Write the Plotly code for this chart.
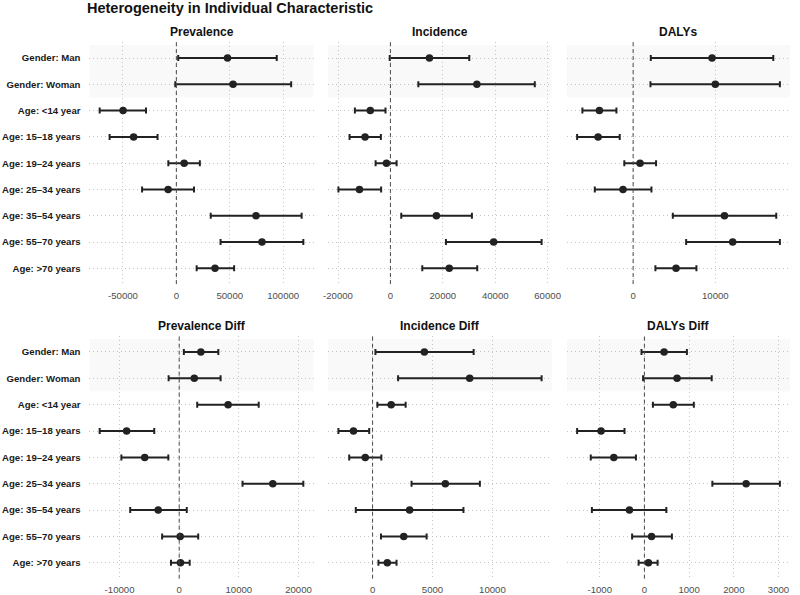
import plotly.graph_objects as go
from plotly.subplots import make_subplots

categories = ["Gender: Man", "Gender: Woman", "Age: <14 year", "Age: 15–18 years",
              "Age: 19–24 years", "Age: 25–34 years", "Age: 35–54 years",
              "Age: 55–70 years", "Age: >70 years"]

panel_titles = ["Prevalence", "Incidence", "DALYs",
                "Prevalence Diff", "Incidence Diff", "DALYs Diff"]

# Prevalence
prev_est = [47900, 53100, -49900, -40000, 7300, -7700, 74600, 80200, 36200]
prev_low = [1750, -1000, -71800, -62500, -7500, -32100, 32200, 41400, 19000]
prev_high = [94000, 107500, -28400, -17600, 22000, 16500, 117300, 118900, 54100]

# Incidence
inc_est = [14900, 33000, -7680, -9680, -1500, -11820, 17550, 39400, 22450]
inc_low = [-260, 10650, -13560, -15590, -5650, -19850, 4140, 21200, 12160]
inc_high = [30100, 55100, -1880, -3650, 2370, -3540, 31100, 57700, 33140]

# DALYs
daly_est = [9600, 10000, -4100, -4260, 840, -1230, 11110, 12110, 5220]
daly_low = [2150, 2110, -6170, -6810, -1070, -4660, 4830, 6450, 2710]
daly_high = [17050, 17850, -2030, -1630, 2790, 2230, 17410, 17850, 7700]

# Prevalence Diff
pdiff_est = [3630, 2530, 8200, -8810, -5780, 15690, -3520, 165, 215]
pdiff_low = [780, -1770, 3020, -13330, -9690, 10620, -8210, -2860, -1370]
pdiff_high = [6560, 6940, 13330, -4180, -1820, 20810, 1270, 3190, 1760]

# Incidence Diff
idiff_est = [4320, 8100, 1550, -1590, -610, 6070, 3090, 2600, 1230]
idiff_low = [240, 2130, 400, -2850, -1950, 3250, -1400, 700, 490]
idiff_high = [8430, 14100, 2760, -280, 730, 8950, 7580, 4510, 2000]

# DALYs Diff
ddiff_est = [440, 730, 645, -970, -685, 2275, -335, 160, 90]
ddiff_low = [-65, -30, 190, -1505, -1200, 1520, -1175, -275, -130]
ddiff_high = [950, 1505, 1105, -445, -190, 3030, 490, 615, 295]

# Tick values / labels
prev_ticks = [-50000, 0, 50000, 100000]
prev_ticktext = ["-50000", "0", "50000", "100000"]
inc_ticks = [-20000, 0, 20000, 40000, 60000]
inc_ticktext = ["-20000", "0", "20000", "40000", "60000"]
daly_ticks = [0, 10000]
daly_ticktext = ["0", "10000"]
pdiff_ticks = [-10000, 0, 10000, 20000]
pdiff_ticktext = ["-10000", "0", "10000", "20000"]
idiff_ticks = [0, 5000, 10000]
idiff_ticktext = ["0", "5000", "10000"]
ddiff_ticks = [-1000, 0, 1000, 2000, 3000]
ddiff_ticktext = ["-1000", "0", "1000", "2000", "3000"]

panels = [
    (prev_est, prev_low, prev_high, prev_ticks, prev_ticktext),
    (inc_est, inc_low, inc_high, inc_ticks, inc_ticktext),
    (daly_est, daly_low, daly_high, daly_ticks, daly_ticktext),
    (pdiff_est, pdiff_low, pdiff_high, pdiff_ticks, pdiff_ticktext),
    (idiff_est, idiff_low, idiff_high, idiff_ticks, idiff_ticktext),
    (ddiff_est, ddiff_low, ddiff_high, ddiff_ticks, ddiff_ticktext),
]

W, H = 800, 595
col_px = [(86, 314), (329, 556.5), (572, 799)]
row_px = [(42.5, 285.5), (337.8, 581.6)]

fig = make_subplots(rows=2, cols=3)

FONT = "Liberation Sans, Arial, sans-serif"
DARK = "#222222"
GRID = "#c4c4c4"
DOT = "1px,3px"

for i, (est, low, high, tv, tt) in enumerate(panels):
    r, c = i // 3, i % 3
    plus = [h - e for h, e in zip(high, est)]
    minus = [e - l for e, l in zip(est, low)]
    fig.add_trace(go.Scatter(
        x=est, y=categories, mode="markers",
        marker=dict(color=DARK, size=7.5),
        error_x=dict(type="data", symmetric=False, array=plus, arrayminus=minus,
                     color=DARK, thickness=2, width=3),
        showlegend=False, hoverinfo="x+y"),
        row=r + 1, col=c + 1)

    lo = min(low); hi = max(high); span = hi - lo
    xr = [lo - 0.05 * span, hi + 0.05 * span]
    axn = "" if i == 0 else str(i + 1)
    x0, x1 = col_px[c]
    y0, y1 = row_px[r]
    fig.update_layout(**{
        "xaxis" + axn: dict(
            domain=[x0 / W, x1 / W], range=xr, tickvals=tv, ticktext=tt,
            showgrid=True, gridcolor=GRID, griddash=DOT, gridwidth=1,
            zeroline=False, showline=False, ticks="", ticklabelstandoff=4,
            tickfont=dict(family=FONT, size=9.6, color="#4d4d4d"),
            fixedrange=True),
        "yaxis" + axn: dict(
            domain=[1 - y1 / H, 1 - y0 / H], type="category",
            categoryorder="array", categoryarray=categories,
            range=[8.6, -0.6],
            showgrid=True, gridcolor=GRID, griddash=DOT, gridwidth=1,
            zeroline=False, showline=False, ticks="",
            showticklabels=(c == 0), ticklabelstandoff=8,
            tickfont=dict(family=FONT, size=9.6, color="#1a1a1a", weight="bold"),
            fixedrange=True),
    })
    xref = "x" + axn
    yref = "y" + axn
    # shaded gender band
    fig.add_shape(type="rect", xref=xref + " domain", yref=yref,
                  x0=0, x1=1, y0=-0.5, y1=1.5,
                  fillcolor="#f9f9f9", line=dict(width=0), layer="below")
    # zero reference line
    fig.add_shape(type="line", xref=xref, yref=yref + " domain",
                  x0=0, x1=0, y0=0, y1=1,
                  line=dict(color="#4a4a4a", width=1, dash="4px,3px"), layer="above")
    # panel title
    fig.add_annotation(text="<b>" + panel_titles[i] + "</b>", xref="paper", yref="paper",
                       x=(x0 + x1) / 2 / W, y=1 - (32.3 if r == 0 else 327.6) / H,
                       xanchor="center", yanchor="middle", showarrow=False,
                       font=dict(family=FONT, size=12, color="#111111"))

fig.add_annotation(text="<b>Heterogeneity in Individual Characteristic</b>",
                   xref="paper", yref="paper", x=81 / W, y=1 - 8 / H,
                   xanchor="left", yanchor="middle", showarrow=False,
                   font=dict(family=FONT, size=14.5, color="#111111"))

fig.update_layout(width=W, height=H, margin=dict(l=0, r=0, t=0, b=0),
                  paper_bgcolor="white", plot_bgcolor="white")

fig.write_html("out.html")
